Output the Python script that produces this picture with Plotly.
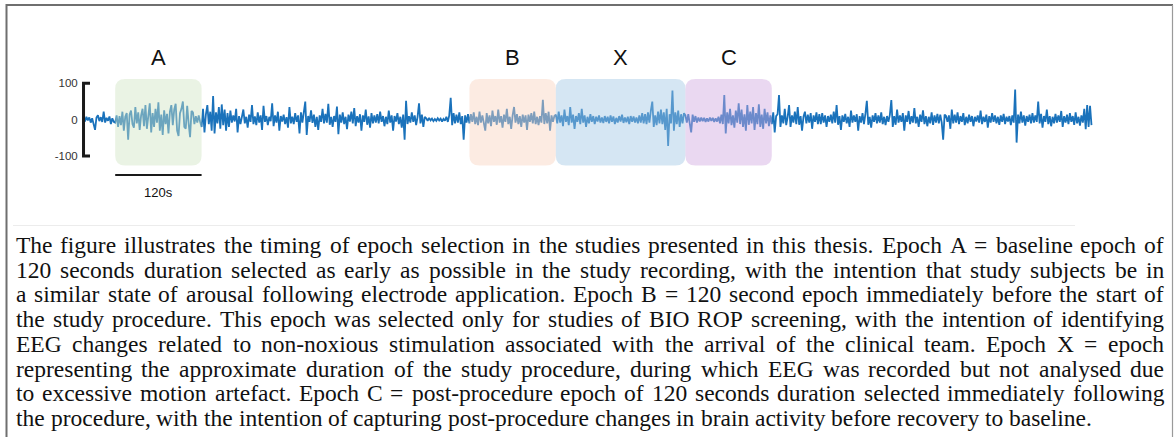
import plotly.graph_objects as go

# ---------------- data ----------------
sample_interval_s = 2  # one value every 2 s of recording

pre_a_uv = [3, -5, 8, -2, 6, -8, 4, -10, -28, 6, 12, -4, 7, -6, 22, -8, 5, -3, 9, -12, 4, -6]
epoch_a_uv = [-8, 12, -20, 10, -15, 22, -30, 8, 18, -55, 14, 25, -12, -22, 35, -10, 20, -28, 12, 30,
              -18, 40, -25, 10, 45, -35, 18, -20, 30, -8, 48, -30, 14, -42, 26, -12, 16, -38, 22, 40,
              -15, 28, 44, -30, -45, 18, 30, 50, -20, -25, 38, -10, -48, 24, 20, -12, 10, -8, 12, -6]
post_a_uv = [-20, 30, -35, 15, 40, -12, 22, -30, 65, -38, 20, -10, 35, -25, 42, -15, 28, -30, 18, -20]
mid_1_uv = [25, -8, 12, -5, 30, -35, 10, -12, 6, 28, -10, 8, -22, 14, -6, 40, -12, 9, -15, 20,
            -8, 12, -28, 38, -6, 10, -15, 8, -4, 45, -18, 12, -8, 22, -30, 10, -5, 14, -12, 7,
            -22, 35, -10, 8, -12, 18, -6, 12, -38, 20, -8, 15, 50, -42, 10, -6, 26, -9, 14, -20,
            8, -28, 12, -6, 30, -10, 16, -8, 44, -14, 8, -20, 10, -6, 36, -40, 14, -8, 20, -12,
            8, -26, 14, -5, 22, -10, 32, -18, 10, -8, 15, -30, 12, -6, 28, -14, 9, -22, 18, -10, 12, -8]
pre_b_uv = [15, -10, 22, -6, 10, -18, 8, -12, 25, -8, 12, -30, 10, -5, 18, -12, 8, -22, 14, -55,
            52, -12, 10, -8, 20, -6, 12, -15, 8, 45, -10, 14, -20, 8, 4, -3, 5, -2, 3, -4,
            2, -3, 4, -2, 3, -5, 2, -3, 8, -6, 12, 60, -15, 18, -10, 14, -8, 20, -12, 10,
            -55, 12, -8, 15]
epoch_b_uv = [-10, 15, -6, 20, -12, 8, -15, 22, -8, 12, -6, -30, 18, -10, 12, -18, 25, -6, 10, -14,
              28, -8, 10, -22, 14, -6, 30, -12, 8, -25, 12, 35, -8, 15, -12, 10, -20, 14, -8, 12,
              -28, 14, -6, 18, -10, 22, -12, 8, -15, 10, -8, 55, -12, 18, -10, 22, -30, 12, -6, 10]
epoch_x_uv = [14, -10, 22, -8, 12, -18, 28, -6, 10, -15, 35, -8, 14, -25, 10, -6, 18, -12, 30, -8,
              12, -20, 8, -10, 15, -6, 10, -12, 8, -5, 12, -8, 6, -9, 10, -6, 8, -10, 12, -6,
              9, -12, 5, -8, 10, -5, 14, -9, 6, -7, 8, -12, 10, -6, 9, -8, 6, -10, 12, -8,
              18, -10, 15, -12, 20, -8, 25, 50, -20, 12, -15, 22, -10, 28, -12, 20, -28, 30, -72, 15,
              -10, 80, -30, 20, -12, 25, -20, 15, -10, 18]
epoch_c_uv = [12, -8, 15, -10, -35, 14, -6, 10, -8, 6, -5, 6, -4, 5, -6, 4, -5, 6, -3, 5,
              -6, 4, -5, 8, -10, 14, -12, 68, -38, 20, -10, 30, -15, 12, -22, 25, -8, 45, -12, 28,
              -20, 15, -30, 40, -14, 22, -10, 35, -28, 18, -12, 42, -20, 14, -25, 30, -10, 20, -18, 12]
post_c_uv = [-12, 20, -35, 10, 15, 68, -20, 12, -10, 30, -15, 8, 40, -20, 12, -8, 22, -12, 35, -14,
             10, -30, 8, 22, -10, 14, -8, 18, -25, 12, -6, 20, -12, 15]
late_1_uv = [-12, 18, -8, 12, -20, 10, -6, 14, -10, 22, -8, 40, -14, 10, -28, 12, -6, 16, -10, 8,
             -20, 25, -8, 12, -6, 15, -30, 10, -8, 18, -12, 16, 52, -14, 8, -22, 12, -6, 18, -10,
             12, -8, 20, -12, 8, -15, 10, -6, 14, 54, -20, 10, -14, 28, -8, 12, -6, 18, -30, 12,
             -6, 24, -12, 10, -8, 32, -10, 8, -20, 14, -6, 26, -12, 10, -18, 8, -10, 20, -14, 12,
             -8, 16, -10, 14, -8, -55, 14, 10, -6, 12, -25, 28, -10, 14, -8, 20, -12, 10, -6, 18, -15, 8]
late_2_uv = [-10, 14, -6, 10, -18, 8, -5, 12, -8, 25, -12, 8, -6, 14, -22, 10, -8, 18, -6, 12,
             -10, 8, -14, 12, -6, 16, -12, 8, -5, 10, -15, 12, -8, 83, -63, 14, -10, 22, -8, 12,
             -16, 10, -6, 14, -10, 18, -8, 12, -6, 50, -10, 16, -22, 10, -6, 28, -12, 10, -18, 8,
             -10, 16, -8, 12, -6, 24, -20, 10, -8, 14, -12, 18, -6, 10, -14, 20, -10, 8, -16, 12,
             -8, 30, -26, 40, -20, 38, -15]

eeg_uv = (pre_a_uv + epoch_a_uv + post_a_uv + mid_1_uv + pre_b_uv + epoch_b_uv +
          epoch_x_uv + epoch_c_uv + post_c_uv + late_1_uv + late_2_uv)
times_s = [i * sample_interval_s for i in range(len(eeg_uv))]

epoch_labels = ["A", "B", "X", "C"]
epoch_start_s = [44, 536, 656, 836]
epoch_length_s = [120, 120, 180, 120]

y_tick_vals = [-100, 0, 100]
y_tick_text = ["-100", "0", "100"]
scale_bar_s = 120
scale_bar_text = "120s"

caption_lines = [
    "The figure illustrates the timing of epoch selection in the studies presented in this thesis. Epoch A = baseline epoch of",
    "120 seconds duration selected as early as possible in the study recording, with the intention that study subjects be in",
    "a similar state of arousal following electrode application. Epoch B = 120 second epoch immediately before the start of",
    "the study procedure. This epoch was selected only for studies of BIO ROP screening, with the intention of identifying",
    "EEG changes related to non-noxious stimulation associated with the arrival of the clinical team. Epoch X = epoch",
    "representing the approximate duration of the study procedure, during which EEG was recorded but not analysed due",
    "to excessive motion artefact. Epoch C = post-procedure epoch of 120 seconds duration selected immediately following",
    "the procedure, with the intention of capturing post-procedure changes in brain activity before recovery to baseline.",
]

# ---------------- styles ----------------
W, H = 1176, 437
trace_color = "#1a72bb"
epoch_fill = ["rgba(208,228,195,0.45)", "rgba(248,211,191,0.45)",
              "rgba(162,199,228,0.45)", "rgba(208,168,224,0.45)"]
box_top, box_bottom = 112, -126
corner_rx, corner_ry = 14, 27

cap_font = "Liberation Serif"
cap_size = 23.5
cap_left, cap_right = 16, 1164
line_y0, line_dy = 245, 24.7

# Times-compatible advance widths (1/1000 em) for justification
_w = {' ': 250, ',': 250, '.': 250, '-': 333, '=': 564}
for ch in "0123456789":
    _w[ch] = 500
for ch, v in zip("ABCDEFGHIJKLMNOPQRSTUVWXYZ",
                 [722, 667, 667, 722, 611, 556, 722, 722, 333, 389, 722, 611, 889,
                  722, 722, 556, 722, 667, 556, 611, 722, 722, 944, 722, 722, 611]):
    _w[ch] = v
for ch, v in zip("abcdefghijklmnopqrstuvwxyz",
                 [444, 500, 444, 500, 444, 333, 500, 500, 278, 278, 500, 278, 778,
                  500, 500, 500, 500, 333, 389, 278, 500, 500, 722, 500, 500, 444]):
    _w[ch] = v


def text_w(s):
    return sum(_w.get(c, 500) for c in s) * cap_size / 1000.0


def px_x(p):
    return p / W


def px_y(p):
    return 1 - p / H


fig = go.Figure()
fig.add_trace(go.Scatter(x=times_s, y=eeg_uv, mode="lines",
                         line=dict(color=trace_color, width=1.8),
                         hoverinfo="skip", showlegend=False))

shapes = []
annotations = []

# epoch boxes (rounded) and letters
for lab, s0, dur, col in zip(epoch_labels, epoch_start_s, epoch_length_s, epoch_fill):
    x0, x1 = s0, s0 + dur
    y0, y1 = box_bottom, box_top
    rx, ry = corner_rx, corner_ry
    path = (f"M {x0+rx},{y0} L {x1-rx},{y0} Q {x1},{y0} {x1},{y0+ry} "
            f"L {x1},{y1-ry} Q {x1},{y1} {x1-rx},{y1} L {x0+rx},{y1} "
            f"Q {x0},{y1} {x0},{y1-ry} L {x0},{y0+ry} Q {x0},{y0} {x0+rx},{y0} Z")
    shapes.append(dict(type="path", path=path, xref="x", yref="y",
                       fillcolor=col, line=dict(width=0), layer="above"))
    annotations.append(dict(x=(x0 + x1) / 2, y=170, xref="x", yref="y", text=lab,
                            showarrow=False, xanchor="center", yanchor="middle",
                            font=dict(family="Liberation Sans", size=22, color="#111")))

# y bracket
ymin, ymax = min(y_tick_vals), max(y_tick_vals)
shapes.append(dict(type="path", xref="x", yref="y",
                   path=f"M 9,{ymax} L 0,{ymax} L 0,{ymin} L 9,{ymin}",
                   line=dict(color="#1a1a1a", width=3), layer="above"))

# scale bar
sb0 = epoch_start_s[0]
shapes.append(dict(type="line", xref="x", yref="y", x0=sb0, x1=sb0 + scale_bar_s,
                   y0=-152, y1=-152, line=dict(color="#1a1a1a", width=2)))
annotations.append(dict(x=sb0 + scale_bar_s / 2, y=-200, xref="x", yref="y",
                        text=scale_bar_text, showarrow=False, xanchor="center",
                        yanchor="middle",
                        font=dict(family="Liberation Sans", size=13, color="#111")))

# frame border and separator (paper coords)
shapes.append(dict(type="path", xref="paper", yref="paper",
                   path=f"M {px_x(6.5)},{px_y(440)} L {px_x(6.5)},{px_y(5)} L {px_x(1173)},{px_y(5)}",
                   line=dict(color="#6f6f6f", width=2)))
shapes.append(dict(type="line", xref="paper", yref="paper", x0=px_x(1172.5), x1=px_x(1172.5),
                   y0=px_y(5), y1=px_y(440), line=dict(color="#9a9a9a", width=1.2)))
shapes.append(dict(type="line", xref="paper", yref="paper", x0=px_x(13), x1=px_x(1075),
                   y0=px_y(225.5), y1=px_y(225.5), line=dict(color="#ececec", width=1)))

# caption, justified word by word (last line ragged)
cap_style = dict(family=cap_font, size=cap_size, color="#111")
for i, line in enumerate(caption_lines):
    words = line.split(" ")
    widths = [text_w(w) for w in words]
    if i < len(caption_lines) - 1 and len(words) > 1:
        gap = (cap_right - cap_left - sum(widths)) / (len(words) - 1)
    else:
        gap = text_w(" ")
    x = cap_left
    yp = px_y(line_y0 + i * line_dy)
    for w, wd in zip(words, widths):
        annotations.append(dict(x=px_x(x), y=yp, xref="paper", yref="paper", text=w,
                                showarrow=False, xanchor="left", yanchor="middle",
                                borderpad=0, borderwidth=0, font=cap_style))
        x += wd + gap

fig.update_layout(
    width=W, height=H, margin=dict(l=0, r=0, t=0, b=0),
    paper_bgcolor="white", plot_bgcolor="white",
    xaxis=dict(range=[-116, 1517.4], visible=False, fixedrange=True),
    yaxis=dict(range=[-872.9, 329.3], anchor="free", position=84 / W,
               tickvals=y_tick_vals, ticktext=y_tick_text, showgrid=False,
               zeroline=False, showline=False, ticks="outside", ticklen=4,
               tickcolor="rgba(0,0,0,0)",
               tickfont=dict(family="Liberation Sans", size=11.5, color="#333")),
    shapes=shapes, annotations=annotations,
)

fig.write_html("out.html")
